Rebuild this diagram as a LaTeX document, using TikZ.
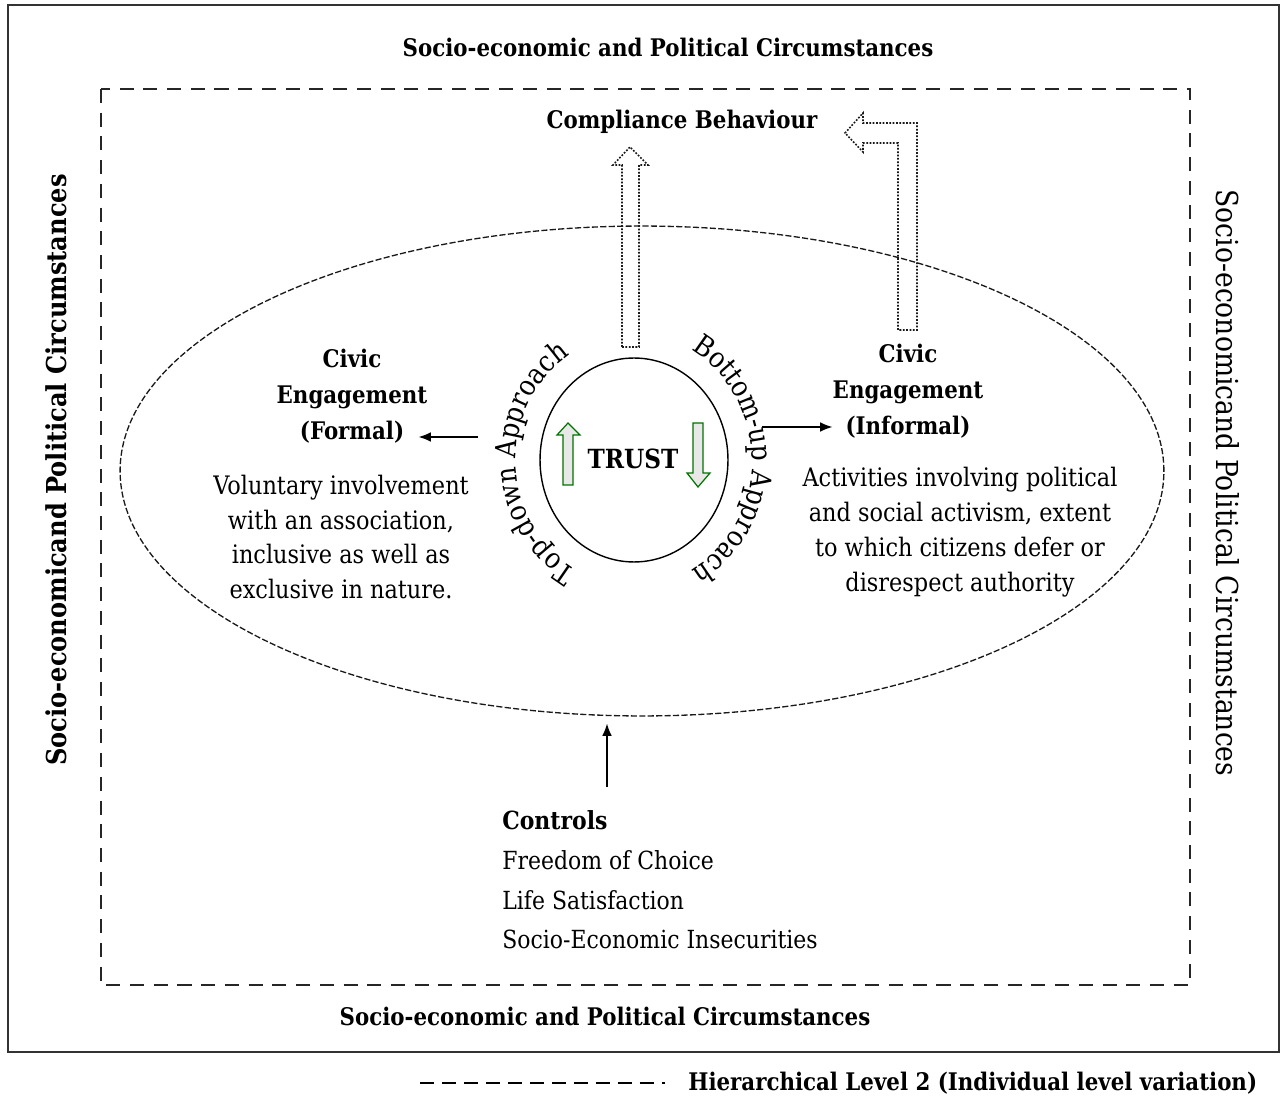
\documentclass[tikz,border=0pt]{standalone}
\usepackage{fontspec}
\setmainfont{DejaVu Serif}[FakeStretch=0.88]
\usetikzlibrary{arrows.meta,shapes.geometric,decorations.text}

\begin{document}
\begin{tikzpicture}[x=0.02cm,y=0.02cm,
    frame/.style={draw=black!80,line width=1.1pt},
    level/.style={draw=black!85,line width=1.1pt,dash pattern=on 8pt off 5.5pt},
    halo/.style={draw=black!90,line width=0.75pt,dash pattern=on 3.5pt off 1.3pt},
    hollow/.style={draw=black!90,line width=0.9pt,dash pattern=on 1pt off 0.9pt},
    greenarr/.style={draw=green!45!black,fill=black!9,line width=0.7pt},
    head/.style={font=\fontsize{13.8}{20.5}\selectfont\bfseries,align=center,inner sep=0pt},
    body/.style={font=\fontsize{14.5}{19.8}\selectfont,align=center,inner sep=0pt},
    link/.style={-{Latex[length=7pt,width=5.5pt]},line width=0.7pt}]
  \useasboundingbox (0,0) rectangle (1282,-1101);

  % frames
  \draw[frame] (8,-5) rectangle (1279,-1052);
  \draw[level] (101,-89) rectangle (1190,-985);
  \node[halo,ellipse,minimum width=20.88cm,minimum height=9.8cm] (sphere) at (642,-471) {};

  % surrounding circumstances
  \node[head] (top) at (668,-47) {Socio-economic and Political Circumstances};
  \node[head] (bottom) at (605,-1016) {Socio-economic and Political Circumstances};
  \node[head,font=\fontsize{15.6}{17}\selectfont\bfseries,rotate=90] (left) at (56,-470)
    {Socio-economicand Political Circumstances};
  \node[body,font=\fontsize{17.2}{19}\selectfont,rotate=-90] (right) at (1228,-483)
    {Socio-economicand Political Circumstances};

  % trust in the middle
  \node[draw,ellipse,line width=0.8pt,minimum width=3.76cm,minimum height=4.08cm] (trust) at (634,-460) {};
  \node[head,font=\fontsize{15}{18}\selectfont\bfseries] (trustlbl) at (633,-459) {TRUST};
  \draw[greenarr] (563,-485) -- (563,-435) -- (557,-435) -- (568,-423) -- (580,-435)
    -- (573,-435) -- (573,-485) -- cycle;
  \draw[greenarr] (693,-423) -- (693,-473) -- (687,-473) -- (698,-487) -- (710,-473)
    -- (703,-473) -- (703,-423) -- cycle;
  \path[decorate,decoration={text along path,text align=center,
      text={|\fontsize{16.2}{19}\selectfont|Top-down Approach}}]
    (trust.center) ++(242:118 and 126) arc[start angle=242,end angle=122,x radius=118,y radius=126];
  \path[decorate,decoration={text along path,text align=center,
      text={|\fontsize{16.2}{19}\selectfont|Bottom-up Approach}}]
    (trust.center) ++(60:118 and 126) arc[start angle=60,end angle=-60,x radius=118,y radius=126];

  % civic engagement
  \node[head] (civf) at (352,-396) {Civic\\Engagement\\(Formal)};
  \node[body] (civftxt) at (341,-537) {Voluntary involvement\\with an association,\\inclusive as well as\\exclusive in nature.};
  \node[head] (civi) at (908,-391) {Civic\\Engagement\\(Informal)};
  \node[body] (civitxt) at (960,-532) {Activities involving political\\and social activism, extent\\to which citizens defer or\\disrespect authority};
  \coordinate (tdend) at (478,-437);
  \coordinate (buend) at (762,-427);
  \draw[link] (tdend) -- ([xshift=-0.18cm]tdend -| civf.east);
  \draw[link] (buend) -- (buend -| civi.west);

  % compliance
  \node[head] (comp) at (682,-122) {Compliance Behaviour};
  \draw[hollow] (622,-347) -- (622,-165) -- (613,-165) -- (630,-147) -- (648,-165)
    -- (639,-165) -- (639,-347) -- cycle;
  \draw[hollow] (898,-330) -- (898,-143) -- (863,-143) -- (863,-152) -- (845,-133)
    -- (863,-113) -- (863,-123) -- (917,-123) -- (917,-330) -- cycle;

  % controls
  \node[body,align=left,anchor=north west,font=\fontsize{14.2}{22.7}\selectfont] (ctrl) at (502,-810)
    {\textbf{Controls}\\Freedom of Choice\\Life Satisfaction\\Socio-Economic Insecurities};
  \coordinate (ctrltop) at (607,-787);
  \draw[link] (ctrltop) -- ([yshift=-0.14cm]ctrltop |- sphere.south);

  % legend
  \coordinate (keya) at (420,-1083);
  \coordinate (keyb) at (665,-1083);
  \draw[line width=0.9pt,dash pattern=on 8pt off 4.5pt] (keya) -- (keyb);
  \node[head,anchor=west] (keytxt) at (688,-1083) {Hierarchical Level 2 (Individual level variation)};
\end{tikzpicture}
\end{document}
